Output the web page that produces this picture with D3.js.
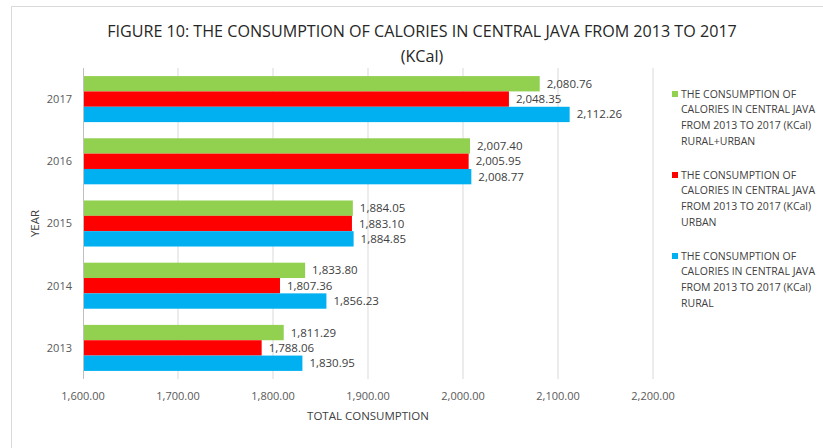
<!DOCTYPE html>
<html>
<head>
<meta charset="utf-8">
<script src="https://cdn.jsdelivr.net/npm/d3@7"></script>
<style>
  body { margin: 0; background: #fff; }
  text { font-family: "Open Sans", sans-serif; }
</style>
</head>
<body>
<div class="chart"></div>
<script>
// Data
let years = ["2013", "2014", "2015", "2016", "2017"];
let ruralUrban = [1811.29, 1833.80, 1884.05, 2007.40, 2080.76];
let urban = [1788.06, 1807.36, 1883.10, 2005.95, 2048.35];
let rural = [1830.95, 1856.23, 1884.85, 2008.77, 2112.26];
let xTicks = [1600, 1700, 1800, 1900, 2000, 2100, 2200];

let seriesNames = [
    ["THE CONSUMPTION OF", "CALORIES IN CENTRAL JAVA", "FROM 2013 TO 2017 (KCal)", "RURAL+URBAN"],
    ["THE CONSUMPTION OF", "CALORIES IN CENTRAL JAVA", "FROM 2013 TO 2017 (KCal)", "URBAN"],
    ["THE CONSUMPTION OF", "CALORIES IN CENTRAL JAVA", "FROM 2013 TO 2017 (KCal)", "RURAL"]
];
let colors = ["#92D050", "#FF0000", "#00B0F0"];
let seriesValues = [ruralUrban, urban, rural];

let width = 823, height = 448;
let plot = { left: 83, right: 653, top: 68, bottom: 379 };

let svg = d3.select(".chart").append("svg")
    .attr("width", width)
    .attr("height", height);

// chart border
svg.append("rect")
    .attr("x", 11.5).attr("y", 6.5)
    .attr("width", 830).attr("height", 460)
    .attr("fill", "none")
    .attr("stroke", "#d9d9d9");

// Title
let title = svg.append("text")
    .attr("text-anchor", "middle")
    .attr("fill", "#262626");
title.append("tspan").attr("x", 422).attr("y", 37)
    .text("FIGURE 10: THE CONSUMPTION OF CALORIES IN CENTRAL JAVA FROM 2013 TO 2017");
title.append("tspan").attr("x", 422).attr("y", 62).text("(KCal)");
title.style("font-size", "16px");
let tw = title.select("tspan").node().getComputedTextLength();
title.style("font-size", (16 * 630 / tw) + "px");

// Scales
let x = d3.scaleLinear().domain([1600, 2200]).range([plot.left, plot.right]);
let y = d3.scaleBand().domain(years.slice().reverse())
    .range([plot.top, plot.bottom])
    .paddingInner(0.26).paddingOuter(0.13);
let ySub = d3.scaleBand().domain([0, 1, 2]).range([0, y.bandwidth()]);

// Gridlines
svg.append("g").selectAll("line")
    .data(xTicks.slice(1))
    .join("line")
    .attr("x1", d => x(d)).attr("x2", d => x(d))
    .attr("y1", plot.top).attr("y2", plot.bottom)
    .attr("stroke", "#d9d9d9");

// Bars
let barData = [];
years.forEach((yr, i) => {
    seriesValues.forEach((vals, s) => {
        barData.push({ year: yr, s: s, value: vals[i] });
    });
});

svg.append("g").selectAll("rect")
    .data(barData)
    .join("rect")
    .attr("x", x(1600))
    .attr("y", d => y(d.year) + ySub(d.s))
    .attr("width", d => x(d.value) - x(1600))
    .attr("height", ySub.bandwidth())
    .attr("fill", d => colors[d.s]);

svg.append("g").selectAll("text")
    .data(barData)
    .join("text")
    .attr("x", d => x(d.value) + 7)
    .attr("y", d => y(d.year) + ySub(d.s) + ySub.bandwidth() / 2)
    .attr("dy", "0.35em")
    .attr("fill", "#404040")
    .style("font-size", "11.5px")
    .text(d => d3.format(",.2f")(d.value));

// Y axis line
svg.append("line")
    .attr("x1", plot.left + 0.5).attr("x2", plot.left + 0.5)
    .attr("y1", plot.top).attr("y2", plot.bottom)
    .attr("stroke", "#bfbfbf");

// Year labels
svg.append("g").selectAll("text")
    .data(years)
    .join("text")
    .attr("x", 72)
    .attr("y", d => y(d) + y.bandwidth() / 2)
    .attr("dy", "0.35em")
    .attr("text-anchor", "end")
    .attr("fill", "#595959")
    .style("font-size", "11px")
    .text(d => d);

// X tick labels
svg.append("g").selectAll("text")
    .data(xTicks)
    .join("text")
    .attr("x", d => x(d))
    .attr("y", 396)
    .attr("dy", "0.35em")
    .attr("text-anchor", "middle")
    .attr("fill", "#595959")
    .style("font-size", "11px")
    .text(d => d3.format(",.2f")(d));

// Axis titles
svg.append("text")
    .attr("x", (plot.left + plot.right) / 2)
    .attr("y", 416)
    .attr("dy", "0.35em")
    .attr("text-anchor", "middle")
    .attr("fill", "#404040")
    .style("font-size", "11.5px")
    .text("TOTAL CONSUMPTION");

svg.append("text")
    .attr("transform", "translate(35," + ((plot.top + plot.bottom) / 2) + ") rotate(-90)")
    .attr("dy", "0.35em")
    .attr("text-anchor", "middle")
    .attr("fill", "#404040")
    .style("font-size", "11.5px")
    .text("YEAR");

// Legend
let legend = svg.append("g");
seriesNames.forEach((lines, i) => {
    let top = 94 + i * 81;
    legend.append("rect")
        .attr("x", 672).attr("y", top - 3)
        .attr("width", 6).attr("height", 6)
        .attr("fill", colors[i]);
    let t = legend.append("text")
        .attr("fill", "#404040")
        .style("font-size", "10.5px");
    lines.forEach((line, j) => {
        t.append("tspan")
            .attr("x", 681)
            .attr("y", top + j * 15.7)
            .attr("dy", "0.35em")
            .text(line);
    });
});
</script>
</body>
</html>
